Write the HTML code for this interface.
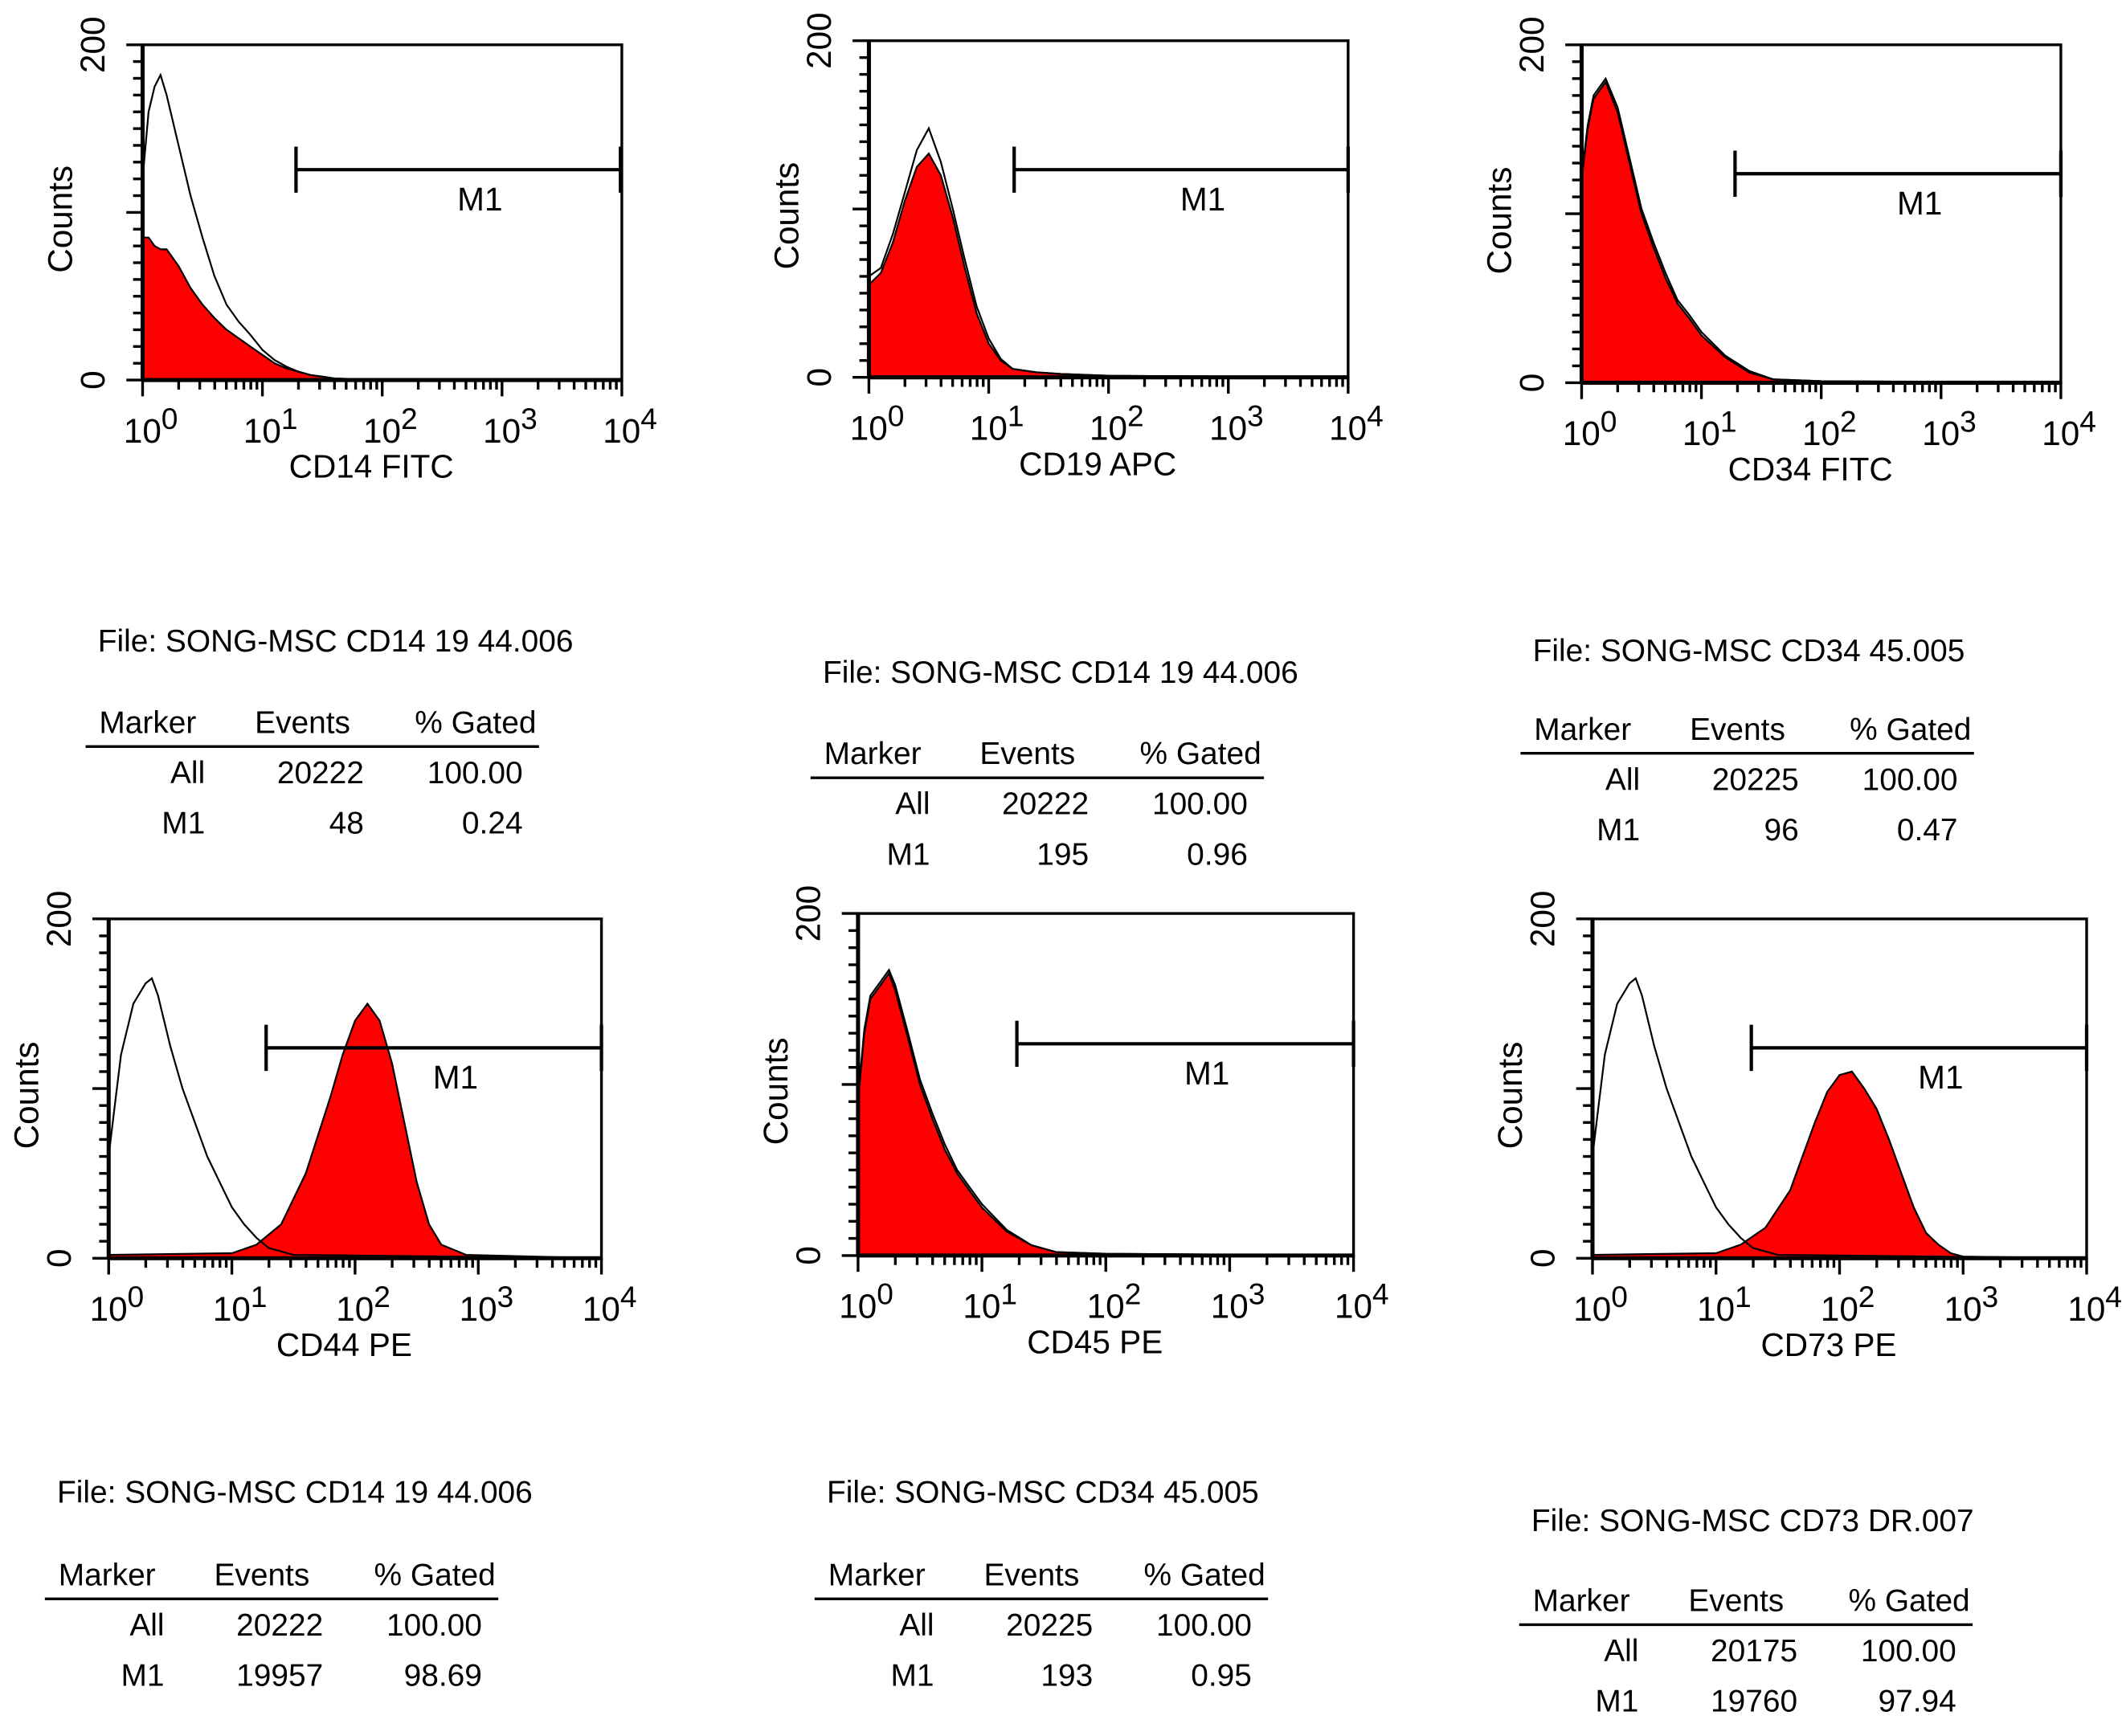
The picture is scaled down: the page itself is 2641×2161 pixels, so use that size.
<!DOCTYPE html>
<html><head><meta charset="utf-8"><style>
html,body{margin:0;padding:0;background:#fff}
svg{display:block}
text{font-family:"Liberation Sans",sans-serif;fill:#000}
</style></head><body>
<svg id="fig" width="2641" height="2161" viewBox="0 0 1563 1279" xmlns="http://www.w3.org/2000/svg"></svg>
<script>
// ---- data (log10 fluorescence positions and counts) ----
const p1FillX=[0,0.05,0.1,0.15,0.2,0.3,0.4,0.5,0.6,0.7,0.8,0.9,1.0,1.1,1.2,1.3,1.4,1.5,1.6,1.8,2.0,4];
const p1FillY=[85,85,80,78,78,68,55,45,37,30,25,20,15,10,7,5,3,2,1,0.5,0.3,0];
const p1LineX=[0,0.05,0.1,0.15,0.2,0.3,0.4,0.5,0.6,0.7,0.8,0.9,1.0,1.1,1.2,1.3,1.4,1.5,1.6,1.8,2.0,4];
const p1LineY=[120,160,175,182,170,140,110,85,62,45,35,27,18,12,8,5,3,2,1,0.5,0.3,0];
const p2FillX=[0,0.1,0.2,0.3,0.4,0.5,0.6,0.7,0.8,0.9,1.0,1.1,1.2,1.4,1.6,2,4];
const p2FillY=[55,62,80,105,125,133,120,95,65,38,20,10,5,3,2,1,0];
const p2LineY=[60,65,85,110,135,148,128,100,70,42,23,11,5,3,2,1,0];
const p3FillX=[0,0.05,0.1,0.2,0.3,0.4,0.5,0.6,0.7,0.8,0.9,1.0,1.2,1.4,1.6,2,4];
const p3FillY=[120,150,168,178,160,130,100,80,62,47,38,28,15,6,2,1,0];
const p3LineY=[122,152,170,180,163,133,103,83,65,49,40,30,16,7,2,1,0];
const p4LineX=[0,0.05,0.1,0.2,0.3,0.35,0.4,0.5,0.6,0.7,0.8,0.9,1.0,1.1,1.2,1.3,1.5,4];
const p4LineY=[60,90,120,150,162,165,155,125,100,80,60,45,30,20,12,6,2,0];
const p4FillX=[0,1.0,1.2,1.4,1.6,1.8,1.9,2.0,2.1,2.2,2.3,2.4,2.5,2.6,2.7,2.9,4];
const p4FillY=[2,3,8,20,50,95,120,140,150,140,115,80,45,20,8,2,0];
const p5FillX=[0,0.05,0.1,0.2,0.25,0.3,0.4,0.5,0.6,0.7,0.8,0.9,1.0,1.2,1.4,1.6,2,4];
const p5FillY=[90,130,150,160,165,155,128,100,80,62,48,38,28,14,6,2,1,0];
const p5LineY=[92,132,152,162,167,158,131,103,83,65,50,40,30,15,6,2,1,0];
const p6FillX=[0,1.0,1.2,1.4,1.6,1.7,1.8,1.9,2.0,2.1,2.2,2.3,2.4,2.5,2.6,2.7,2.8,2.9,3.0,4];
const p6FillY=[2,3,8,18,40,60,80,98,108,110,100,88,70,50,30,15,8,3,1,0];
const axisLabels=["CD14 FITC","CD19 APC","CD34 FITC","CD44 PE","CD45 PE","CD73 PE"];
const fileNames=["File: SONG-MSC CD14 19 44.006","File: SONG-MSC CD14 19 44.006","File: SONG-MSC CD34 45.005","File: SONG-MSC CD14 19 44.006","File: SONG-MSC CD34 45.005","File: SONG-MSC CD73 DR.007"];
const allEvents=["20222","20222","20225","20222","20225","20175"];
const m1Events=["48","195","96","19957","193","19760"];
const m1Gated=["0.24","0.96","0.47","98.69","0.95","97.94"];

// ---- layout ----
const boxes=[[105,33,458,280],[640,30,993,278],[1165,33,1518,282],[80,677,443,927],[632,673,997,925],[1173,677,1537,927]];
const markers=[[218,457,125],[747,993,125],[1278,1518,128],[196,443,772],[749,997,769],[1290,1537,772]];
const tables=[[63,480,540],[597,503,563],[1120,487,545],[33,1107,1168],[600,1107,1168],[1119,1128,1187]];
const series=[
 {f:[p1FillX,p1FillY],l:[p1LineX,p1LineY]},
 {f:[p2FillX,p2FillY],l:[p2FillX,p2LineY]},
 {f:[p3FillX,p3FillY],l:[p3FillX,p3LineY]},
 {f:[p4FillX,p4FillY],l:[p4LineX,p4LineY]},
 {f:[p5FillX,p5FillY],l:[p5FillX,p5LineY]},
 {f:[p6FillX,p6FillY],l:[p4LineX,p4LineY]}];
const NS="http://www.w3.org/2000/svg";
const svg=document.getElementById('fig');
function mk(tag,attrs,parent,txt){const e=document.createElementNS(NS,tag);for(const k in attrs)e.setAttribute(k,attrs[k]);if(txt!==undefined)e.textContent=txt;(parent||svg).appendChild(e);return e;}

boxes.forEach((b,i)=>{
 const [x0,y0,x1,y1]=b;
 const g=mk('g',{});
 
 
 const sx=v=>x0+v/4*(x1-x0);
 const sy=v=>y1-v/200*(y1-y0);
 const path=(xs,ys)=>xs.map((x,k)=>(k?'L':'M')+sx(x).toFixed(1)+','+sy(ys[k]).toFixed(1)).join('');
 const s=series[i];
 const fp=mk('path',{d:path(s.f[0],s.f[1])+'L'+sx(4)+','+y1+'L'+x0+','+y1+'Z',fill:'#ff0000',stroke:'#000','stroke-width':1.3},g);
 
 
 const lp=mk('path',{d:path(s.l[0],s.l[1]),fill:'none',stroke:'#000','stroke-width':1.3},g);
 
 
 const r=mk('rect',{x:x0,y:y0,width:x1-x0,height:y1-y0,fill:'none',stroke:'#000','stroke-width':2},g);
 
 
 mk('line',{x1:x0,y1:y0,x2:x0,y2:y1,stroke:'#000','stroke-width':3},g);
 mk('line',{x1:x0,y1:y1,x2:x1,y2:y1,stroke:'#000','stroke-width':3},g);
 for(let v=0;v<=200;v+=10){const L=(v%100===0)?12:7;mk('line',{x1:x0-L,y1:sy(v),x2:x0,y2:sy(v),stroke:'#000','stroke-width':2},g);}
 for(let d=0;d<4;d++)for(let m=1;m<10;m++){const x=sx(d+Math.log10(m));const L=m===1?12:7;mk('line',{x1:x,y1:y1,x2:x,y2:y1+L,stroke:'#000','stroke-width':2},g);}
 mk('line',{x1:x1,y1:y1,x2:x1,y2:y1+12,stroke:'#000','stroke-width':2},g);
 for(let d=0;d<=4;d++){const t=mk('text',{x:sx(d)-14,y:y1+46,'font-size':25},g);
  
  
  mk('tspan',{},t,'10');mk('tspan',{dy:-10,'font-size':22},t,String(d));}
 const cx=x0-28;
 [[0,'0'],[200,'200']].forEach(([v,l])=>{const t=mk('text',{transform:`translate(${cx},${sy(v)}) rotate(-90)`,'text-anchor':'middle','font-size':25},g,l);
  
  });
 const yt=mk('text',{transform:`translate(${x0-52},${(y0+y1)/2+5}) rotate(-90)`,'text-anchor':'middle','font-size':25},g,'Counts');
 
 
 const xt=mk('text',{x:(x0+x1)/2-8,y:y1+72,'text-anchor':'middle','font-size':24},g,axisLabels[i]);
 
 
 const [ma,mb,my]=markers[i];
 const mg=mk('g',{stroke:'#000','stroke-width':2.5},g);
 
 
 mk('line',{x1:ma,y1:my,x2:mb,y2:my},mg);
 mk('line',{x1:ma,y1:my-17,x2:ma,y2:my+17},mg);
 mk('line',{x1:mb,y1:my-17,x2:mb,y2:my+17},mg);
 const ml=mk('text',{x:(ma+mb)/2+16,y:my+30,'text-anchor':'middle','font-size':24},g,'M1');
 
 
 const [tx,fy,hy]=tables[i];
 const tg=mk('g',{'font-size':23},svg);
 
 
 mk('text',{x:tx+9,y:fy},tg,fileNames[i]);
 mk('text',{x:tx+10,y:hy},tg,'Marker');
 mk('text',{x:tx+195,y:hy,'text-anchor':'end'},tg,'Events');
 mk('text',{x:tx+332,y:hy,'text-anchor':'end'},tg,'% Gated');
 mk('line',{x1:tx,y1:hy+10,x2:tx+334,y2:hy+10,stroke:'#000','stroke-width':2},tg);
 mk('text',{x:tx+88,y:hy+37,'text-anchor':'end'},tg,'All');
 mk('text',{x:tx+205,y:hy+37,'text-anchor':'end'},tg,allEvents[i]);
 mk('text',{x:tx+322,y:hy+37,'text-anchor':'end'},tg,'100.00');
 mk('text',{x:tx+88,y:hy+74,'text-anchor':'end'},tg,'M1');
 mk('text',{x:tx+205,y:hy+74,'text-anchor':'end'},tg,m1Events[i]);
 mk('text',{x:tx+322,y:hy+74,'text-anchor':'end'},tg,m1Gated[i]);
});
</script>
</body></html>
